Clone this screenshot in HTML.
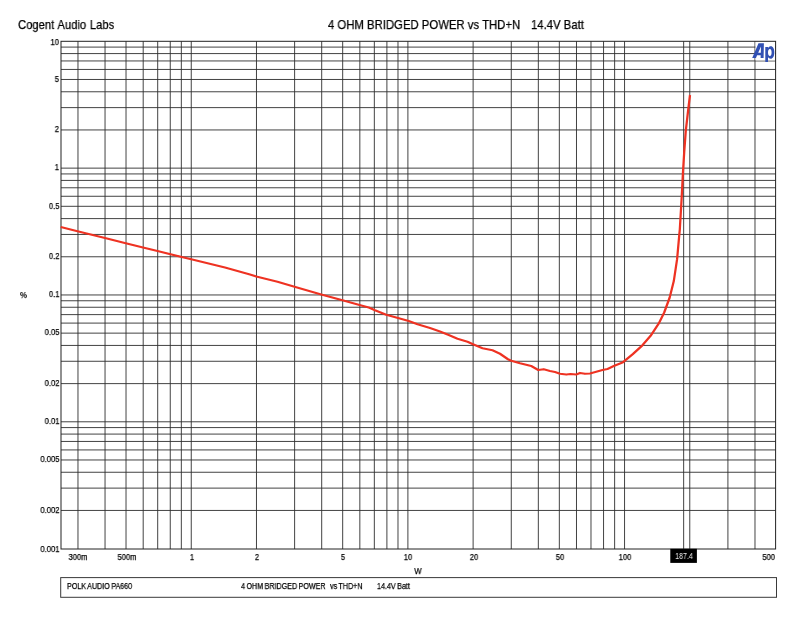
<!DOCTYPE html>
<html><head><meta charset="utf-8"><title>chart</title>
<style>html,body{margin:0;padding:0;background:#fff}#c{position:relative;width:800px;height:622px;overflow:hidden;background:#fff}svg{display:block;position:absolute;left:0;top:0}.t{position:absolute;white-space:pre;font-family:"Liberation Sans",sans-serif;color:#000;line-height:1;-webkit-text-stroke:0.25px currentColor;will-change:transform}</style></head>
<body>
<div id="c">
<svg width="800" height="622" viewBox="0 0 800 622">
<rect width="800" height="622" fill="#fff"/>
<path d="M77.97 41.30V549.00M105.04 41.30V549.00M126.03 41.30V549.00M143.19 41.30V549.00M157.69 41.30V549.00M170.25 41.30V549.00M181.34 41.30V549.00M191.25 41.30V549.00M256.47 41.30V549.00M294.62 41.30V549.00M321.69 41.30V549.00M342.68 41.30V549.00M359.84 41.30V549.00M374.34 41.30V549.00M386.90 41.30V549.00M397.99 41.30V549.00M407.90 41.30V549.00M473.12 41.30V549.00M511.27 41.30V549.00M538.34 41.30V549.00M559.33 41.30V549.00M576.49 41.30V549.00M590.99 41.30V549.00M603.55 41.30V549.00M614.64 41.30V549.00M624.55 41.30V549.00M689.77 41.30V549.00M727.92 41.30V549.00M754.99 41.30V549.00M683.65 41.30V549.00" stroke="#2e2e2e" stroke-width="0.9" fill="none"/>
<path d="M61.00 510.44H775.60M61.00 488.11H775.60M61.00 472.26H775.60M61.00 459.97H775.60M61.00 449.93H775.60M61.00 441.44H775.60M61.00 434.08H775.60M61.00 427.59H775.60M61.00 421.79H775.60M61.00 383.61H775.60M61.00 361.28H775.60M61.00 345.43H775.60M61.00 333.14H775.60M61.00 323.10H775.60M61.00 314.61H775.60M61.00 307.25H775.60M61.00 300.76H775.60M61.00 294.96H775.60M61.00 256.78H775.60M61.00 234.45H775.60M61.00 218.60H775.60M61.00 206.31H775.60M61.00 196.27H775.60M61.00 187.78H775.60M61.00 180.42H775.60M61.00 173.93H775.60M61.00 168.13H775.60M61.00 129.95H775.60M61.00 107.62H775.60M61.00 91.77H775.60M61.00 79.48H775.60M61.00 69.44H775.60M61.00 60.95H775.60M61.00 53.59H775.60M61.00 47.10H775.60" stroke="#2e2e2e" stroke-width="0.9" fill="none"/>
<rect x="755.5" y="41.6" width="19.5" height="18.8" fill="#fff"/>
<rect x="61.00" y="41.30" width="714.60" height="507.70" fill="none" stroke="#222" stroke-width="1"/>
<path d="M60.75 227.00 L77.50 231.25 L105.00 238.00 L125.75 243.25 L143.00 247.50 L157.50 251.00 L181.75 257.00 L191.25 259.25 L225.00 267.50 L250.00 274.50 L256.25 276.50 L277.50 281.75 L294.50 286.75 L321.25 294.50 L342.50 300.25 L359.50 305.00 L368.75 307.50 L375.00 310.25 L386.25 314.75 L398.00 318.00 L408.75 321.00 L417.50 324.25 L430.00 328.00 L440.00 331.50 L448.75 335.00 L457.50 338.75 L467.50 341.75 L473.00 344.25 L482.50 348.25 L492.50 350.25 L500.00 353.75 L508.00 359.25 L511.25 360.75 L520.00 363.25 L531.25 366.00 L538.25 370.00 L543.75 369.25 L550.00 371.00 L555.00 372.00 L560.00 373.75 L566.25 374.50 L570.50 374.00 L576.25 374.50 L580.00 373.00 L585.00 373.75 L590.00 373.50 L596.25 371.75 L602.50 370.00 L607.50 369.00 L613.75 366.00 L622.50 362.50 L624.60 360.90 L632.80 354.10 L642.40 345.30 L650.60 335.80 L658.80 323.40 L664.20 312.50 L669.70 297.50 L673.80 281.10 L677.10 259.20 L679.30 234.60 L679.80 229.60 L681.50 200.70 L683.00 171.70 L684.20 152.40 L685.80 130.70 L688.30 109.00 L690.00 95.00" stroke="#ee3222" stroke-width="2.25" fill="none" stroke-linejoin="round" stroke-linecap="butt"/>
<rect x="670.3" y="548.8" width="26.6" height="14.1" fill="#000"/>
<rect x="60.70" y="577.6" width="715.80" height="19.7" fill="#fff" stroke="#3a3a3a" stroke-width="1"/>
<g fill="#3150b3"><path fill-rule="evenodd" d="M752.2 57.9L758.5 43.2L763.9 43.2L763.6 57.9L760.6 57.9L760.7 55.2L757.1 55.2L756 57.9ZM758.2 52.8L760.8 52.8L761 46.6Z"/><path fill-rule="evenodd" d="M765.3 47L768 47L768 48.1C768.7 46.9 769.7 46.3 770.9 46.3C773 46.3 774.3 48.7 774.3 52.4C774.3 56.2 772.9 58.7 770.7 58.7C769.5 58.7 768.6 58.1 768 57L768 61.9L765.3 61.9ZM769.9 49C768.7 49 768 50.3 768 52.5C768 54.7 768.7 56 769.9 56C771 56 771.6 54.7 771.6 52.5C771.6 50.3 771 49 769.9 49Z"/></g>
</svg>
<span class="t" style="left:17.60px;top:18.30px;font-size:13px;transform:scaleX(0.865);transform-origin:0 0;word-spacing:0.7px">Cogent Audio Labs</span>
<span class="t" style="left:327.90px;top:18.30px;font-size:13px;transform:scaleX(0.872);transform-origin:0 0">4 OHM BRIDGED POWER vs THD+N</span>
<span class="t" style="left:531.30px;top:18.30px;font-size:13px;transform:scaleX(0.872);transform-origin:0 0">14.4V Batt</span>
<span class="t" style="right:740.50px;top:37.80px;font-size:9px;transform:scaleX(0.85);transform-origin:100% 0">10</span>
<span class="t" style="right:740.50px;top:74.80px;font-size:9px;transform:scaleX(0.85);transform-origin:100% 0">5</span>
<span class="t" style="right:740.50px;top:124.80px;font-size:9px;transform:scaleX(0.85);transform-origin:100% 0">2</span>
<span class="t" style="right:740.50px;top:162.80px;font-size:9px;transform:scaleX(0.85);transform-origin:100% 0">1</span>
<span class="t" style="right:740.50px;top:201.80px;font-size:9px;transform:scaleX(0.85);transform-origin:100% 0">0.5</span>
<span class="t" style="right:740.50px;top:251.80px;font-size:9px;transform:scaleX(0.85);transform-origin:100% 0">0.2</span>
<span class="t" style="right:740.50px;top:289.80px;font-size:9px;transform:scaleX(0.85);transform-origin:100% 0">0.1</span>
<span class="t" style="right:740.50px;top:327.80px;font-size:9px;transform:scaleX(0.85);transform-origin:100% 0">0.05</span>
<span class="t" style="right:740.50px;top:378.80px;font-size:9px;transform:scaleX(0.85);transform-origin:100% 0">0.02</span>
<span class="t" style="right:740.50px;top:416.80px;font-size:9px;transform:scaleX(0.85);transform-origin:100% 0">0.01</span>
<span class="t" style="right:740.50px;top:454.80px;font-size:9px;transform:scaleX(0.85);transform-origin:100% 0">0.005</span>
<span class="t" style="right:740.50px;top:505.80px;font-size:9px;transform:scaleX(0.85);transform-origin:100% 0">0.002</span>
<span class="t" style="right:740.50px;top:544.80px;font-size:9px;transform:scaleX(0.85);transform-origin:100% 0">0.001</span>
<span class="t" style="left:20.00px;top:290.80px;font-size:9px;transform:scaleX(0.865);transform-origin:0 0">%</span>
<span class="t" style="left:78.47px;top:552.80px;font-size:9px;transform:translateX(-50%) scaleX(0.84);transform-origin:50% 0">300m</span>
<span class="t" style="left:126.53px;top:552.80px;font-size:9px;transform:translateX(-50%) scaleX(0.84);transform-origin:50% 0">500m</span>
<span class="t" style="left:191.75px;top:552.80px;font-size:9px;transform:translateX(-50%) scaleX(0.84);transform-origin:50% 0">1</span>
<span class="t" style="left:256.97px;top:552.80px;font-size:9px;transform:translateX(-50%) scaleX(0.84);transform-origin:50% 0">2</span>
<span class="t" style="left:343.18px;top:552.80px;font-size:9px;transform:translateX(-50%) scaleX(0.84);transform-origin:50% 0">5</span>
<span class="t" style="left:408.40px;top:552.80px;font-size:9px;transform:translateX(-50%) scaleX(0.84);transform-origin:50% 0">10</span>
<span class="t" style="left:473.62px;top:552.80px;font-size:9px;transform:translateX(-50%) scaleX(0.84);transform-origin:50% 0">20</span>
<span class="t" style="left:559.83px;top:552.80px;font-size:9px;transform:translateX(-50%) scaleX(0.84);transform-origin:50% 0">50</span>
<span class="t" style="left:625.05px;top:552.80px;font-size:9px;transform:translateX(-50%) scaleX(0.84);transform-origin:50% 0">100</span>
<span class="t" style="right:25.10px;top:552.80px;font-size:9px;transform:scaleX(0.84);transform-origin:100% 0">500</span>
<span class="t" style="left:683.90px;top:551.80px;font-size:9px;transform:translateX(-50%) scaleX(0.78);transform-origin:50% 0;color:#f0f0f0;-webkit-text-stroke:0">187.4</span>
<span class="t" style="left:417.70px;top:566.80px;font-size:9px;transform:translateX(-50%) scaleX(0.865);transform-origin:50% 0">W</span>
<span class="t" style="left:67.20px;top:582.05px;font-size:8.5px;transform:scaleX(0.84);transform-origin:0 0;word-spacing:-0.6px">POLK AUDIO PA660</span>
<span class="t" style="left:240.80px;top:582.05px;font-size:8.5px;transform:scaleX(0.84);transform-origin:0 0;word-spacing:-0.6px">4 OHM BRIDGED POWER</span>
<span class="t" style="left:329.50px;top:582.05px;font-size:8.5px;transform:scaleX(0.84);transform-origin:0 0;word-spacing:-0.6px">vs THD+N</span>
<span class="t" style="left:377.00px;top:582.05px;font-size:8.5px;transform:scaleX(0.84);transform-origin:0 0;word-spacing:-0.6px">14.4V Batt</span>
</div>
</body></html>
